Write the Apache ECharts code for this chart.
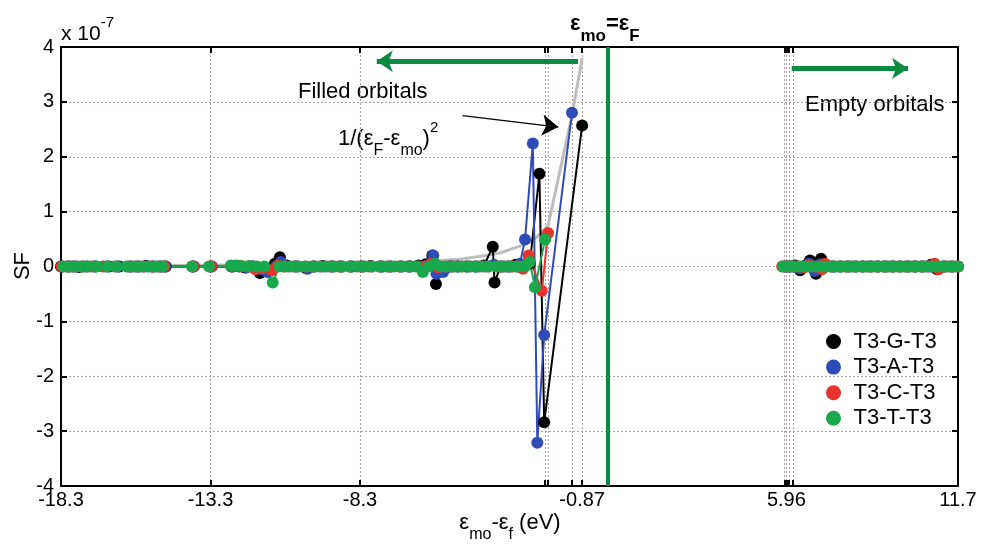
<!DOCTYPE html>
<html><head><meta charset="utf-8">
<script src="https://cdn.jsdelivr.net/npm/echarts@6/dist/echarts.min.js"></script>
<style>html,body{margin:0;padding:0;background:#fff}#c{width:981px;height:544px}</style>
</head><body><div id="c"></div>
<script>
// ---- axis ticks ----
const X_MIN = -18.3, X_MAX = 11.7;
const X_TICKS = [-18.3, -13.3, -8.3, -2.11, -2.01, -1.21, -0.87, 5.9, 5.96, 6.05, 6.18, 11.7];
const X_TICK_LABELS = [-18.3, -13.3, -8.3, -0.87, 5.96, 11.7];
const Y_MIN = -4, Y_MAX = 4, Y_STEP = 1;

// ---- series (SF in units of 1e-7) ----
const SERIES_NAMES = ['T3-G-T3', 'T3-A-T3', 'T3-C-T3', 'T3-T-T3'];

const G_FILLED = [[-18.30,0.00],[-18.10,0.00],[-17.90,0.00],[-17.70,-0.01],[-17.45,0.00],[-17.15,0.00],[-16.70,0.00],[-16.35,0.00],[-15.95,0.00],[-15.70,0.00],[-15.45,0.01],[-15.20,0.00],[-14.95,0.00],[-14.80,0.00],[-13.90,0.00],[-13.30,0.00],[-12.60,0.00],[-12.40,0.01],[-12.15,-0.02],[-11.90,0.00],[-11.65,-0.12],[-11.45,-0.03],[-11.15,0.05],[-10.98,0.17],[-10.75,0.02],[-10.45,0.00],[-10.10,-0.03],[-9.85,0.00],[-9.55,0.01],[-9.25,0.00],[-8.95,0.00],[-8.60,0.00],[-8.25,0.00],[-7.95,0.01],[-7.60,0.00],[-7.30,0.00],[-6.95,0.00],[-6.65,0.00],[-6.35,0.02],[-6.10,0.04],[-5.88,0.20],[-5.76,-0.32],[-5.55,-0.04],[-5.30,0.00],[-5.05,0.00],[-4.75,0.00],[-4.45,0.00],[-4.15,0.02],[-3.86,0.36],[-3.80,-0.29],[-3.60,0.00],[-3.35,0.00],[-3.10,0.03],[-2.90,0.02],[-2.62,0.05],[-2.30,1.69],[-2.14,-2.84],[-0.87,2.57]];
const G_EMPTY = [[5.96,0.00],[6.10,0.00],[6.25,0.02],[6.42,-0.07],[6.60,0.02],[6.75,0.11],[6.95,-0.13],[7.12,0.14],[7.30,0.01],[7.55,0.00],[7.80,0.00],[8.05,0.00],[8.30,0.00],[8.55,0.00],[8.80,0.00],[9.05,0.00],[9.30,0.00],[9.55,0.00],[9.80,0.00],[10.05,0.00],[10.30,0.00],[10.55,0.00],[10.80,0.03],[11.00,-0.05],[11.25,0.00],[11.50,0.00],[11.70,0.00]];

const A_FILLED = [[-18.25,0.00],[-18.00,0.00],[-17.75,0.00],[-17.55,0.00],[-17.20,0.00],[-16.80,0.00],[-16.40,0.00],[-16.00,0.00],[-15.75,0.00],[-15.50,0.00],[-15.25,0.00],[-15.00,0.00],[-14.82,0.00],[-13.85,0.00],[-13.25,0.00],[-12.55,0.00],[-12.35,0.00],[-12.10,-0.02],[-11.85,0.00],[-11.60,-0.05],[-11.40,-0.10],[-11.10,0.00],[-10.95,0.08],[-10.70,0.00],[-10.40,0.00],[-10.05,-0.04],[-9.80,0.00],[-9.50,0.00],[-9.20,0.00],[-8.90,0.00],[-8.55,0.00],[-8.20,0.00],[-7.90,0.00],[-7.55,0.00],[-7.25,0.00],[-6.90,0.00],[-6.60,0.00],[-6.30,0.00],[-6.05,0.02],[-5.85,0.20],[-5.74,-0.13],[-5.52,-0.10],[-5.25,0.00],[-5.00,0.00],[-4.70,0.00],[-4.40,0.00],[-4.10,0.00],[-3.82,0.03],[-3.55,0.00],[-3.30,0.00],[-3.05,0.00],[-2.95,0.05],[-2.78,0.49],[-2.52,2.24],[-2.37,-3.21],[-2.14,-1.25],[-1.21,2.80]];
const A_EMPTY = [[5.90,0.00],[6.05,0.00],[6.22,0.00],[6.40,-0.03],[6.58,0.00],[6.72,0.05],[6.90,-0.08],[7.10,0.04],[7.28,0.00],[7.50,0.00],[7.75,0.00],[8.00,0.00],[8.25,0.00],[8.50,0.00],[8.75,0.00],[9.00,0.00],[9.25,0.00],[9.50,0.00],[9.75,0.00],[10.00,0.00],[10.25,0.00],[10.50,0.00],[10.75,0.00],[11.00,0.00],[11.20,0.00],[11.45,0.00],[11.68,0.00]];

const C_FILLED = [[-18.28,0.00],[-18.05,0.00],[-17.85,0.00],[-17.60,0.00],[-17.30,0.00],[-16.90,0.00],[-16.50,0.00],[-16.05,0.00],[-15.80,0.00],[-15.55,0.00],[-15.30,0.00],[-15.05,0.00],[-14.85,0.00],[-13.88,0.00],[-13.28,0.00],[-12.58,0.00],[-12.30,0.00],[-12.05,0.00],[-11.80,-0.05],[-11.55,-0.03],[-11.25,-0.07],[-11.05,0.02],[-10.80,0.00],[-10.50,0.00],[-10.15,0.00],[-9.90,0.00],[-9.60,0.00],[-9.30,0.00],[-9.00,0.00],[-8.65,0.00],[-8.30,0.00],[-8.00,0.00],[-7.65,0.00],[-7.35,0.00],[-7.00,0.00],[-6.70,0.00],[-6.40,0.00],[-6.15,0.00],[-5.92,0.05],[-5.70,-0.02],[-5.45,0.00],[-5.20,0.00],[-4.90,0.00],[-4.60,0.00],[-4.30,0.00],[-4.00,0.00],[-3.70,0.00],[-3.45,0.00],[-3.20,0.00],[-3.00,0.00],[-2.85,-0.04],[-2.66,0.20],[-2.22,-0.44],[-2.01,0.61]];
const C_EMPTY = [[5.82,0.00],[6.00,0.00],[6.18,0.00],[6.38,0.00],[6.55,-0.02],[6.70,0.02],[6.88,0.00],[7.05,0.00],[7.15,-0.05],[7.25,0.05],[7.45,0.00],[7.70,0.00],[7.95,0.00],[8.20,0.00],[8.45,0.00],[8.70,0.00],[8.95,0.00],[9.20,0.00],[9.45,0.00],[9.70,0.00],[9.95,0.00],[10.20,0.00],[10.45,0.00],[10.70,0.00],[10.92,0.05],[11.05,-0.05],[11.30,0.00],[11.55,0.00],[11.70,0.00]];

const T_FILLED = [[-18.22,0.00],[-18.02,0.00],[-17.82,0.00],[-17.62,0.00],[-17.40,0.00],[-17.10,0.00],[-16.75,0.00],[-16.45,0.00],[-16.10,0.00],[-15.85,0.00],[-15.60,0.00],[-15.38,0.00],[-15.12,0.00],[-14.90,0.00],[-13.92,0.00],[-13.35,0.00],[-12.62,0.02],[-12.45,0.02],[-12.25,0.01],[-12.00,0.01],[-11.75,0.00],[-11.50,0.00],[-11.22,-0.29],[-11.00,0.00],[-10.85,0.00],[-10.60,0.00],[-10.35,0.00],[-10.10,0.00],[-9.88,0.00],[-9.65,0.00],[-9.40,0.00],[-9.15,0.00],[-8.90,0.00],[-8.65,0.00],[-8.40,0.00],[-8.15,0.00],[-7.90,0.00],[-7.65,0.00],[-7.40,0.00],[-7.15,0.00],[-6.90,0.00],[-6.65,0.00],[-6.42,0.00],[-6.20,-0.10],[-6.00,0.00],[-5.80,0.05],[-5.60,0.00],[-5.40,0.00],[-5.15,0.00],[-4.90,0.00],[-4.65,0.00],[-4.40,0.00],[-4.20,0.00],[-4.00,0.00],[-3.75,0.00],[-3.50,0.00],[-3.25,0.00],[-3.05,0.00],[-2.85,0.00],[-2.75,0.02],[-2.62,0.08],[-2.45,-0.38],[-2.11,0.49]];
const T_EMPTY = [[5.84,0.00],[6.02,0.00],[6.18,0.00],[6.32,0.00],[6.48,0.00],[6.64,0.00],[6.80,0.00],[6.96,0.00],[7.12,0.00],[7.28,0.00],[7.44,0.00],[7.60,0.00],[7.78,0.00],[7.95,0.00],[8.12,0.00],[8.30,0.00],[8.48,0.00],[8.66,0.00],[8.84,0.00],[9.02,0.00],[9.20,0.00],[9.38,0.00],[9.56,0.00],[9.74,0.00],[9.92,0.00],[10.10,0.00],[10.28,0.00],[10.46,0.00],[10.64,0.00],[10.82,0.00],[11.00,0.00],[11.18,0.00],[11.36,0.00],[11.54,0.00],[11.70,0.00]];

// 1/(eF-emo)^2 reference curve (scaled)
const INV_SQ_CURVE = [[-18.30,0.01],[-14.80,0.02],[-11.50,0.03],[-8.30,0.05],[-6.30,0.08],[-5.00,0.13],[-4.10,0.20],[-3.60,0.25],[-2.90,0.38],[-2.50,0.48],[-2.11,0.68],[-2.01,0.75],[-1.21,2.75],[-0.87,3.80]];

// annotation anchors (data coords)
const FERMI_X = -0.02;
const FILLED_ARROW = [[-1.01, 3.74], [-7.74, 3.74]];
const EMPTY_ARROW = [[6.14, 3.61], [10.03, 3.61]];
const CURVE_POINTER = [[-4.87, 2.75], [-1.67, 2.54]];

const COLORS = ['#000000', '#2f4bb8', '#e8322b', '#1aa84c'];
const FONT = '"Liberation Sans", Arial, Helvetica, sans-serif';

const gap = [['-', '-']];
const seriesData = [
  G_FILLED.concat(gap, G_EMPTY),
  A_FILLED.concat(gap, A_EMPTY),
  C_FILLED.concat(gap, C_EMPTY),
  T_FILLED.concat(gap, T_EMPTY)
];

const chart = echarts.init(document.getElementById('c'), null, {renderer: 'canvas'});

const gridLine = {show: true, lineStyle: {color: '#ab9d9d', width: 1, type: [2, 2]}};
const axisLine = {show: true, onZero: false, lineStyle: {color: '#000', width: 2}};
const tick = {show: true, inside: true, length: 6, lineStyle: {color: '#000', width: 2}};

const series = [{
  name: 'curve', type: 'line', data: INV_SQ_CURVE, symbol: 'none', silent: true,
  lineStyle: {color: '#bdbdbd', width: 3}, itemStyle: {color: '#bdbdbd'},
  markLine: {
    silent: true, animation: false, symbol: ['none', 'none'],
    label: {show: false},
    lineStyle: {color: '#0b8a42', width: 4, type: 'solid'},
    data: [{xAxis: FERMI_X}]
  }
}];
SERIES_NAMES.forEach((n, i) => {
  series.push({
    name: n, type: 'line', data: seriesData[i], connectNulls: false,
    symbol: 'circle', symbolSize: 12, showAllSymbol: true,
    lineStyle: {color: COLORS[i], width: 2},
    itemStyle: {color: COLORS[i], borderWidth: 0},
    emphasis: {disabled: true}
  });
});
series.push({
  name: 'annot', type: 'line', data: INV_SQ_CURVE.slice(0, 1), symbol: 'none', silent: true,
  lineStyle: {width: 0, opacity: 0},
  markLine: {
    silent: true, animation: false, symbol: ['none', 'arrow'], symbolSize: [16, 16],
    label: {show: false},
    data: [
      [{coord: FILLED_ARROW[0], lineStyle: {color: '#0b8a42', width: 5, type: 'solid'}, symbolSize: 18},
       {coord: FILLED_ARROW[1]}],
      [{coord: EMPTY_ARROW[0], lineStyle: {color: '#0b8a42', width: 5, type: 'solid'}, symbolSize: 18},
       {coord: EMPTY_ARROW[1]}],
      [{coord: CURVE_POINTER[0], lineStyle: {color: '#000', width: 1.2, type: 'solid'}, symbolSize: 8},
       {coord: CURVE_POINTER[1]}]
    ]
  }
});

const mainRich = (size, lh) => ({fontSize: size, lineHeight: lh, fontFamily: FONT, color: '#000'});

chart.setOption({
  animation: false,
  backgroundColor: '#ffffff',
  grid: {left: 61, right: 23, top: 47, bottom: 58, containLabel: false},
  xAxis: [{
    type: 'value', min: X_MIN, max: X_MAX, position: 'bottom',
    axisLine: axisLine, axisTick: Object.assign({customValues: X_TICKS}, tick),
    axisLabel: {customValues: X_TICK_LABELS, color: '#000', fontSize: 20, fontFamily: FONT, margin: 4,
      formatter: v => String(v)},
    splitLine: gridLine
  }, {
    type: 'value', min: X_MIN, max: X_MAX, position: 'top',
    axisLine: axisLine, axisTick: Object.assign({customValues: X_TICKS}, tick),
    axisLabel: {show: false}, splitLine: {show: false}
  }],
  yAxis: [{
    type: 'value', min: Y_MIN, max: Y_MAX, interval: Y_STEP, position: 'left',
    axisLine: axisLine, axisTick: tick,
    axisLabel: {color: '#000', fontSize: 20, fontFamily: FONT, margin: 7},
    splitLine: gridLine
  }, {
    type: 'value', min: Y_MIN, max: Y_MAX, interval: Y_STEP, position: 'right',
    axisLine: axisLine, axisTick: tick, axisLabel: {show: false}, splitLine: {show: false}
  }],
  legend: {
    data: SERIES_NAMES, orient: 'vertical', left: 826, top: 329, padding: 0,
    icon: 'circle', itemWidth: 30, itemHeight: 15, itemGap: 0.6, selectedMode: false,
    textStyle: {fontSize: 22, color: '#000', fontFamily: FONT, lineHeight: 25}
  },
  graphic: [
    {type: 'text', x: 61, y: 15, silent: true, style: {
      text: '{a|x 10}{p|-7}', align: 'left', verticalAlign: 'top',
      rich: {a: mainRich(21, 39), p: Object.assign(mainRich(15, 15), {verticalAlign: 'top'})}}},
    {type: 'text', x: 570, y: 3, silent: true, style: {
      text: '{a|ε}{s|mo}{a|=ε}{s|F}', align: 'left', verticalAlign: 'top',
      rich: {a: Object.assign(mainRich(22, 42), {fontWeight: 'bold'}),
             s: Object.assign(mainRich(17, 17), {fontWeight: 'bold', verticalAlign: 'bottom'})}}},
    {type: 'text', x: 298, y: 92.4, silent: true, style: {
      text: 'Filled orbitals', font: '22px ' + FONT, fill: '#000', align: 'left', verticalAlign: 'middle'}},
    {type: 'text', x: 805, y: 105.4, silent: true, style: {
      text: 'Empty orbitals', font: '22px ' + FONT, fill: '#000', align: 'left', verticalAlign: 'middle'}},
    {type: 'text', x: 338, y: 120.4, silent: true, style: {
      text: '{a|1/(ε}{s|F}{a|-ε}{s|mo}{a|)}{p|2}', align: 'left', verticalAlign: 'top',
      rich: {a: mainRich(22, 38), s: Object.assign(mainRich(16, 16), {verticalAlign: 'bottom'}),
             p: Object.assign(mainRich(15, 23), {verticalAlign: 'top'})}}},
    {type: 'text', x: 510, y: 504.4, silent: true, style: {
      text: '{a|ε}{s|mo}{a|-ε}{s|f}{a| (eV)}', align: 'center', verticalAlign: 'top',
      rich: {a: mainRich(22, 38), s: Object.assign(mainRich(16, 16), {verticalAlign: 'bottom'})}}},
    {type: 'text', x: 23, y: 266, rotation: Math.PI / 2, silent: true, style: {
      text: 'SF', font: '22px ' + FONT, fill: '#000', align: 'center', verticalAlign: 'middle'}}
  ],
  series: series
});
</script></body></html>
